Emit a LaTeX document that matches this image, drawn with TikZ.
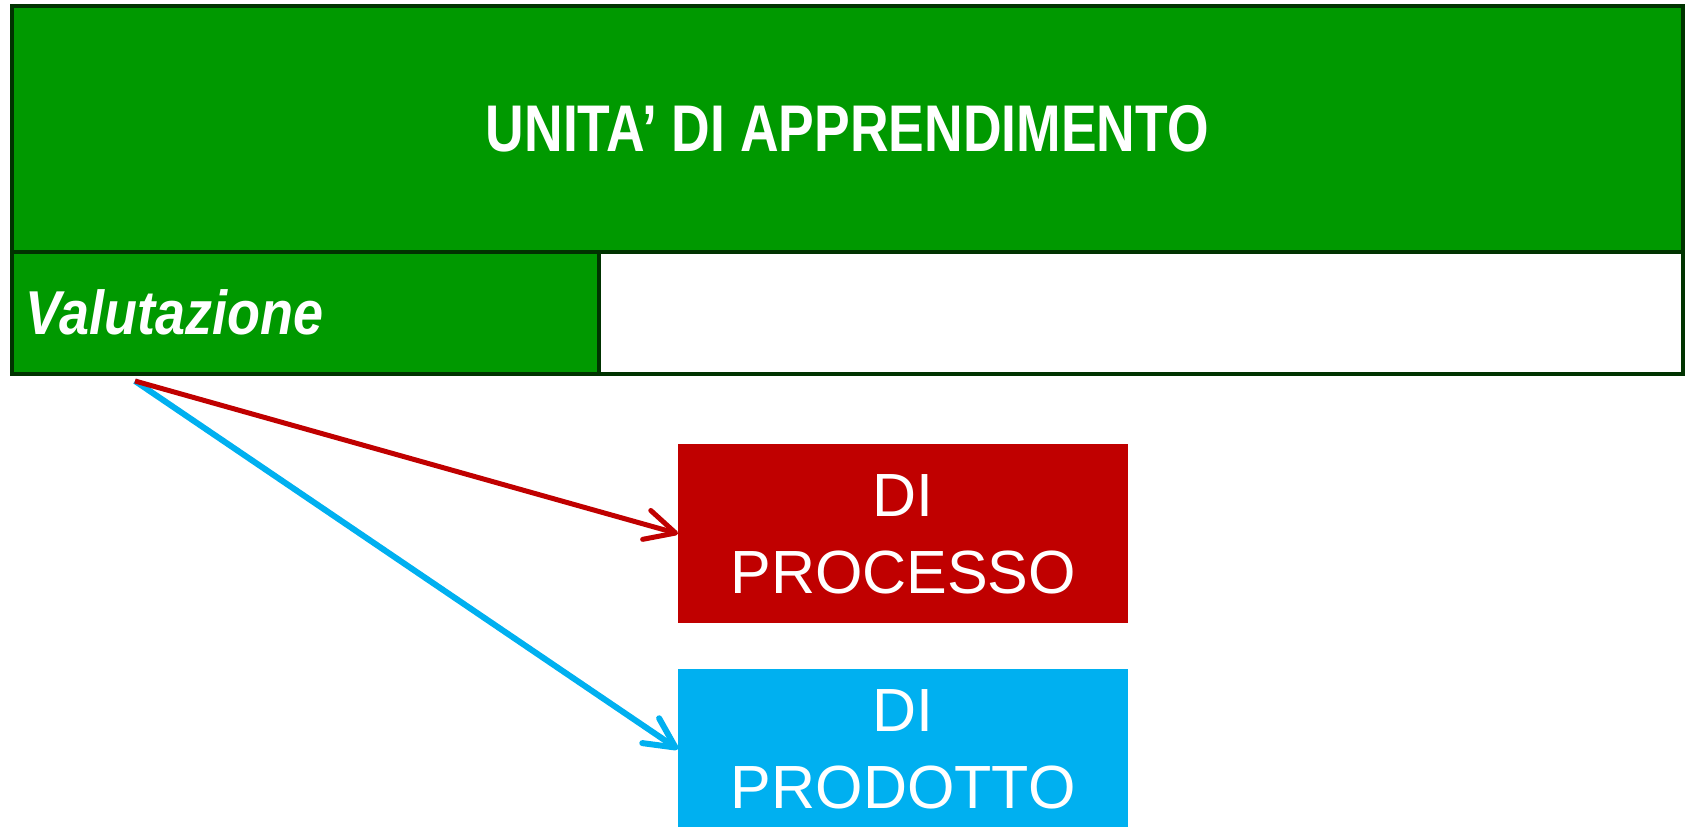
\documentclass[tikz,border=0pt]{standalone}
\usepackage{fontspec}
\setmainfont{Liberation Sans}
\newfontfamily\condfont{Liberation Sans}[FakeStretch=0.81]
\newfontfamily\valfont{Liberation Sans}[FakeStretch=0.87]
\usetikzlibrary{arrows.meta}
\definecolor{tgreen}{RGB}{0,153,0}
\definecolor{tborder}{RGB}{0,51,0}
\definecolor{pred}{RGB}{192,0,0}
\definecolor{pblue}{RGB}{0,176,240}
\tikzset{
  cell/.style={draw=tborder, line width=4pt, inner sep=0pt, anchor=north west, outer sep=0pt},
  pbox/.style={inner sep=0pt, anchor=north west, minimum width=450pt, text=white, align=center,
    font=\fontsize{61}{77}\selectfont},
  arr/.style={line width=5pt, -{Straight Barb[length=30pt, width=30pt, round]}}
}
\begin{document}
\begin{tikzpicture}[x=1pt, y=-1pt]
\useasboundingbox (0,0) rectangle (1687,827);
\node[cell, fill=tgreen, minimum width=1671.5pt, minimum height=246pt, text=white,
  font=\condfont\bfseries\fontsize{66}{80}\selectfont] (title) at (11.5,6) {UNITA’ DI APPRENDIMENTO};
\node[cell, fill=tgreen, minimum width=587.5pt, minimum height=121.5pt, text=white,
  text width=559.5pt, align=left, inner xsep=14pt,
  font=\valfont\bfseries\itshape\fontsize{62}{80}\selectfont] (val) at (11.5,252) {Valutazione};
\node[cell, fill=white, minimum width=1084pt, minimum height=121.5pt] (empty) at (599,252) {};
\node[pbox, fill=pred, minimum height=179pt, text depth=-7pt] (proc) at (678,444) {DI\\PROCESSO};
\node[pbox, fill=pblue, minimum height=160pt, text depth=-11pt] (prod) at (678,669) {DI\\PRODOTTO};
\coordinate (src) at (135,381);
\draw[arr, pblue, line width=6pt] (src) -- (prod.west);
\draw[arr, pred] (src) -- (proc.west);
\end{tikzpicture}
\end{document}
